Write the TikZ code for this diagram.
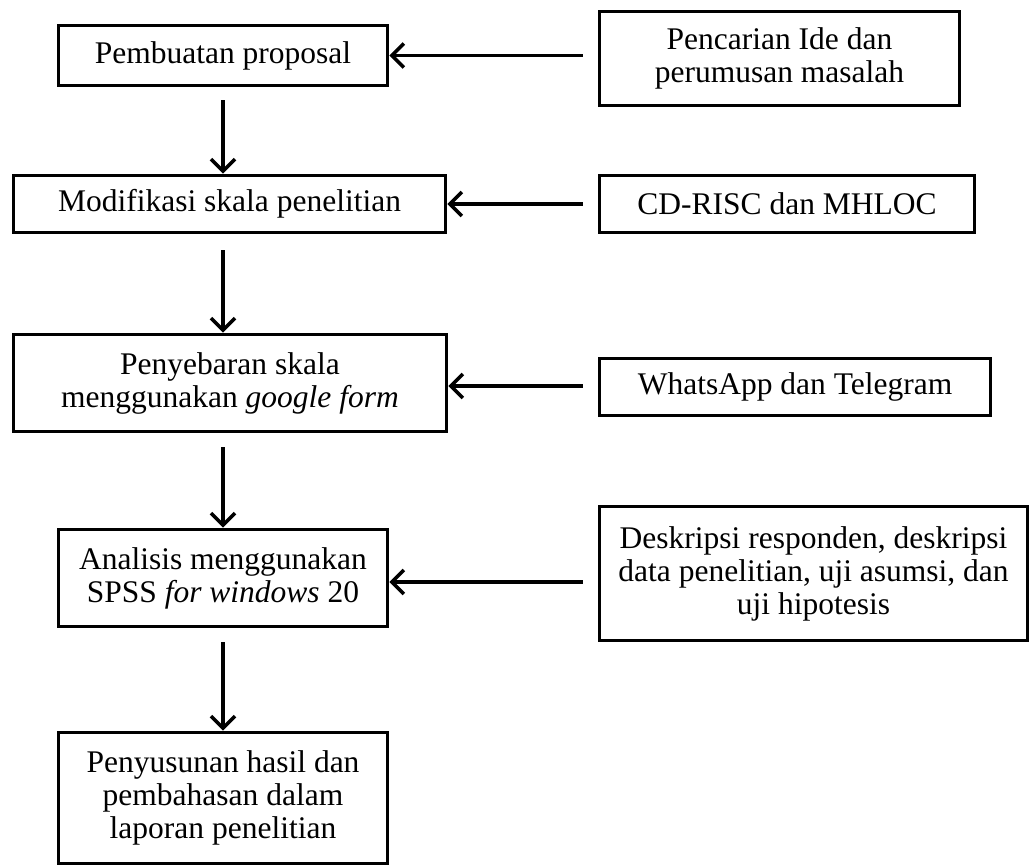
\documentclass[tikz,border=0pt]{standalone}
\usepackage{fontspec}
\setmainfont{Liberation Serif}
\usetikzlibrary{arrows.meta}

\begin{document}
\begin{tikzpicture}[x=1pt,y=-1pt,
  box/.style={rectangle,draw=black,line width=3.6pt,fill=white,
    inner sep=2pt,align=center,font=\fontsize{31.5}{33}\selectfont},
  arr/.style={-{Straight Barb[length=12pt,width=24pt,line width=3.6pt]},line width=3.8pt,color=black}
]
  \useasboundingbox (0,0) rectangle (1031,867);
  % left column
  \node[box,minimum width=329pt,minimum height=60pt]  (prop)  at (223,55.5) {Pembuatan proposal};
  \node[box,minimum width=432pt,minimum height=57pt]  (mod)   at (229.5,204) {Modifikasi skala penelitian};
  \node[box,minimum width=433pt,minimum height=97pt]  (sebar) at (230,383) {Penyebaran skala\\menggunakan \textit{google form}};
  \node[box,minimum width=329pt,minimum height=97pt]  (anal)  at (223,578) {Analisis menggunakan\\SPSS \textit{for windows} 20};
  \node[box,minimum width=329pt,minimum height=131pt] (susun) at (223,798) {Penyusunan hasil dan\\pembahasan dalam\\laporan penelitian};
  % right column
  \node[box,minimum width=360pt,minimum height=94pt]  (ide)   at (779.5,58.5) {Pencarian Ide dan\\perumusan masalah};
  \node[box,minimum width=375pt,minimum height=57pt]  (skala) at (787,204) {CD-RISC dan MHLOC};
  \node[box,minimum width=391pt,minimum height=57pt]  (wa)    at (795,387) {WhatsApp dan Telegram};
  \node[box,minimum width=428pt,minimum height=134pt] (desk)  at (813.5,573.5) {Deskripsi responden, deskripsi\\data penelitian, uji asumsi, dan\\uji hipotesis};

  \draw[arr,shorten <=13pt] (prop) -- (prop |- mod.north);
  \draw[arr,shorten <=16pt] (prop |- mod.south) -- (prop |- sebar.north);
  \draw[arr,shorten <=14pt] (prop |- sebar.south) -- (anal);
  \draw[arr,shorten <=14pt] (anal) -- (susun);

  \draw[arr,shorten <=15pt] (ide.west |- prop.east) -- (prop.east);
  \draw[arr,shorten <=15pt] (skala.west |- mod.east) -- (mod.east);
  \draw[arr,shorten <=15pt] (wa.west |- 0,386) -- (sebar.east |- 0,386);
  \draw[arr,shorten <=15pt] (desk.west |- 0,582) -- (anal.east |- 0,582);
\end{tikzpicture}
\end{document}
